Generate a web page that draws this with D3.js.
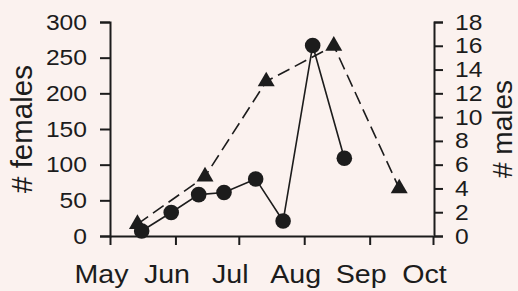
<!DOCTYPE html>
<html>
<head>
<meta charset="utf-8">
<script src="https://cdn.jsdelivr.net/npm/d3@7"></script>
<style>
  html, body { margin: 0; padding: 0; background: #fbf2ef; }
  svg { display: block; }
  text { font-family: "Liberation Sans", Arial, Helvetica, sans-serif; fill: #1c1c1c; }
</style>
</head>
<body>
<svg id="chart" width="518" height="291"></svg>
<script>
// sampling dates and counts
const femaleDates = ["2001-05-16", "2001-05-30", "2001-06-12", "2001-06-24",
                     "2001-07-09", "2001-07-22", "2001-08-05", "2001-08-20"];
const females = [7, 33, 58, 61, 80, 21, 267, 109];

const maleDates = ["2001-05-14", "2001-06-15", "2001-07-14", "2001-08-15", "2001-09-15"];
const males = [1, 5, 13, 16, 4];

const femaleTicks = [0, 50, 100, 150, 200, 250, 300];
const maleTicks = [0, 2, 4, 6, 8, 10, 12, 14, 16, 18];

const width = 518, height = 291;
const ink = "#1c1c1c";
const sx = 1.12; // the scan is a bit wider than tall

const parse = d3.timeParse("%Y-%m-%d");
const femaleData = femaleDates.map((d, i) => ({ date: parse(d), value: females[i] }));
const maleData = maleDates.map((d, i) => ({ date: parse(d), value: males[i] }));

const svg = d3.select("#chart");

let x = d3.scaleTime()
    .domain([new Date(2001, 4, 1), new Date(2001, 9, 1)])
    .range([110, 433]);

let yLeft = d3.scaleLinear().domain([0, 300]).range([236, 22]);
let yRight = d3.scaleLinear().domain([0, 18]).range([236, 22]);

function styleAxis(g) {
    g.selectAll("path, line").attr("stroke", ink).attr("stroke-width", 2);
    g.selectAll("text").attr("fill", ink);
}

// bottom axis
let gx = svg.append("g")
    .attr("transform", "translate(0,236)")
    .call(d3.axisBottom(x)
        .ticks(d3.timeMonth.every(1))
        .tickFormat(d3.timeFormat("%b"))
        .tickSize(9)
        .tickSizeOuter(0));
gx.selectAll("text")
    .attr("font-size", 26)
    .attr("y", 0).attr("dy", 0)
    .attr("transform", "translate(-9,47) scale(1.1,1)");
styleAxis(gx);

// left axis, females
let gl = svg.append("g")
    .attr("transform", "translate(110,0)")
    .call(d3.axisLeft(yLeft).tickValues(femaleTicks).tickSize(10).tickSizeOuter(10));
gl.selectAll("text")
    .attr("font-size", 22)
    .attr("x", -23 / sx)
    .attr("transform", `scale(${sx},1)`);
styleAxis(gl);

// right axis, males
let gr = svg.append("g")
    .attr("transform", "translate(434,0)")
    .call(d3.axisRight(yRight).tickValues(maleTicks).tickSize(9).tickSizeOuter(9));
gr.selectAll("text")
    .attr("font-size", 22)
    .attr("x", 21 / sx)
    .attr("transform", `scale(${sx},1)`);
styleAxis(gr);

// axis titles
svg.append("text")
    .attr("transform", `translate(32,129) rotate(-90)`)
    .attr("text-anchor", "middle")
    .attr("font-size", 29.5)
    .text("# females");

svg.append("text")
    .attr("transform", `translate(512,129) rotate(-90)`)
    .attr("text-anchor", "middle")
    .attr("font-size", 28)
    .text("# males");

// males: dashed line with triangles
let maleLine = d3.line().x(d => x(d.date)).y(d => yRight(d.value));
svg.append("path")
    .datum(maleData)
    .attr("d", maleLine)
    .attr("fill", "none")
    .attr("stroke", ink)
    .attr("stroke-width", 1.6)
    .attr("stroke-dasharray", "13,6");

svg.selectAll(".tri")
    .data(maleData)
    .join("path")
    .attr("class", "tri")
    .attr("d", d3.symbol(d3.symbolTriangle, 125))
    .attr("transform", d => `translate(${x(d.date)},${yRight(d.value)})`)
    .attr("fill", ink);

// females: solid line with circles
let femaleLine = d3.line().x(d => x(d.date)).y(d => yLeft(d.value));
svg.append("path")
    .datum(femaleData)
    .attr("d", femaleLine)
    .attr("fill", "none")
    .attr("stroke", ink)
    .attr("stroke-width", 1.6);

svg.selectAll(".dot")
    .data(femaleData)
    .join("circle")
    .attr("class", "dot")
    .attr("cx", d => x(d.date))
    .attr("cy", d => yLeft(d.value))
    .attr("r", 7.8)
    .attr("fill", ink);
</script>
</body>
</html>
